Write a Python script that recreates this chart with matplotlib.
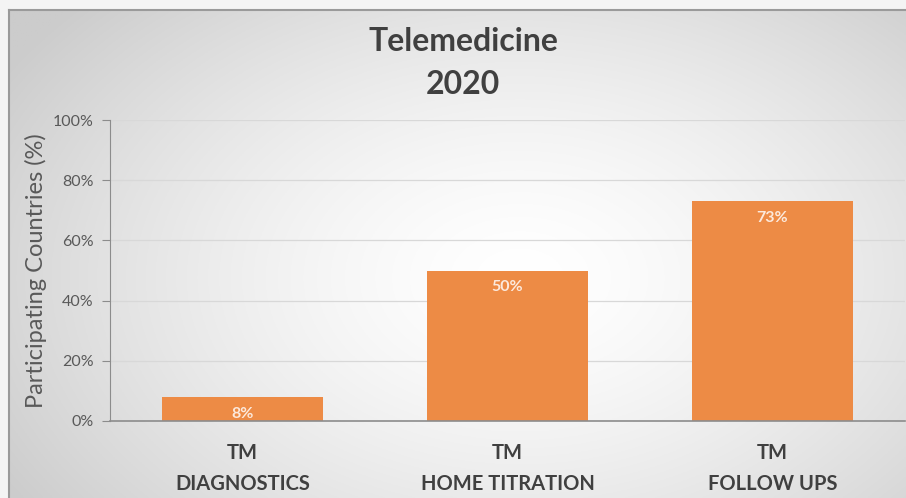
import numpy as np
import matplotlib
matplotlib.use("Agg")
import matplotlib.pyplot as plt

categories = ["TM\nDIAGNOSTICS", "TM\nHOME TITRATION", "TM\nFOLLOW UPS"]
values = [8, 50, 73]
bar_labels = ["8%", "50%", "73%"]
yticks = [0, 20, 40, 60, 80, 100]
ytick_labels = ["0%", "20%", "40%", "60%", "80%", "100%"]

plt.rcParams['font.family'] = ['Lato', 'DejaVu Sans']

W, H = 906, 498
fig = plt.figure(figsize=(W / 100, H / 100), dpi=100)
fig.patch.set_facecolor("#f4f4f4")

# radial gradient background
bg = fig.add_axes([9 / W, 0, 1 - 9 / W, 1 - 10 / H], zorder=0)
yy, xx = np.mgrid[0:1:300j, 0:1:500j]
r = np.sqrt(((xx - 0.57) / 0.65) ** 2 + ((yy - 0.45) / 0.8) ** 2)
g = 1.0 - 0.19 * np.clip(r, 0, 1.2) ** 1.5
g = np.clip(g, 0.80, 1.0)
bg.imshow(np.dstack([g, g, g]), extent=[0, 1, 0, 1], aspect="auto", origin="lower")
bg.set_xticks([]); bg.set_yticks([])
for s in ["right", "bottom"]:
    bg.spines[s].set_visible(False)
for s in ["top", "left"]:
    bg.spines[s].set_color("#9a9a9a"); bg.spines[s].set_linewidth(1.5)

ax = fig.add_axes([110 / W, 1 - 421 / H, (905 - 110) / W, (421 - 120) / H], zorder=1)
ax.patch.set_alpha(0)
x = np.arange(len(categories))
bars = ax.bar(x, values, width=0.61, color="#ED8B45", zorder=2)
ax.set_xlim(-0.5, 2.5)
ax.set_ylim(0, 100)
ax.set_yticks(yticks)
ax.set_yticklabels(ytick_labels, color="#595959", fontsize=11.5)
ax.yaxis.grid(True, color="#d8d8d8", linewidth=0.9, zorder=0)
ax.set_xticks(x)
ax.set_xticklabels(categories, fontsize=14.5, fontweight="bold", color="#404040", linespacing=1.7)
ax.tick_params(axis="x", length=0, pad=16)
ax.tick_params(axis="y", length=5.8, color="#8c8c8c", pad=6)
for s in ["top", "right"]:
    ax.spines[s].set_visible(False)
ax.spines["left"].set_color("#8c8c8c")
ax.spines["bottom"].set_color("#8c8c8c")
ax.spines["bottom"].set_linewidth(1.2)
ax.set_ylabel("Participating Countries (%)", fontsize=17, color="#595959", labelpad=4)

for b, lab in zip(bars, bar_labels):
    ax.annotate(lab, (b.get_x() + b.get_width() / 2, b.get_height()),
                xytext=(0, -12), textcoords="offset points", ha="center", va="center",
                fontsize=11.5, fontweight="bold", color="#FCE9DC", zorder=3)

fig.text(463 / W, 1 - 51 / H, "Telemedicine", ha="center", va="baseline",
         fontsize=23, fontweight="bold", color="#404040")
fig.text(463 / W, 1 - 94 / H, "2020", ha="center", va="baseline",
         fontsize=23, fontweight="bold", color="#404040")

fig.savefig("out.png", dpi=100, facecolor=fig.get_facecolor())
